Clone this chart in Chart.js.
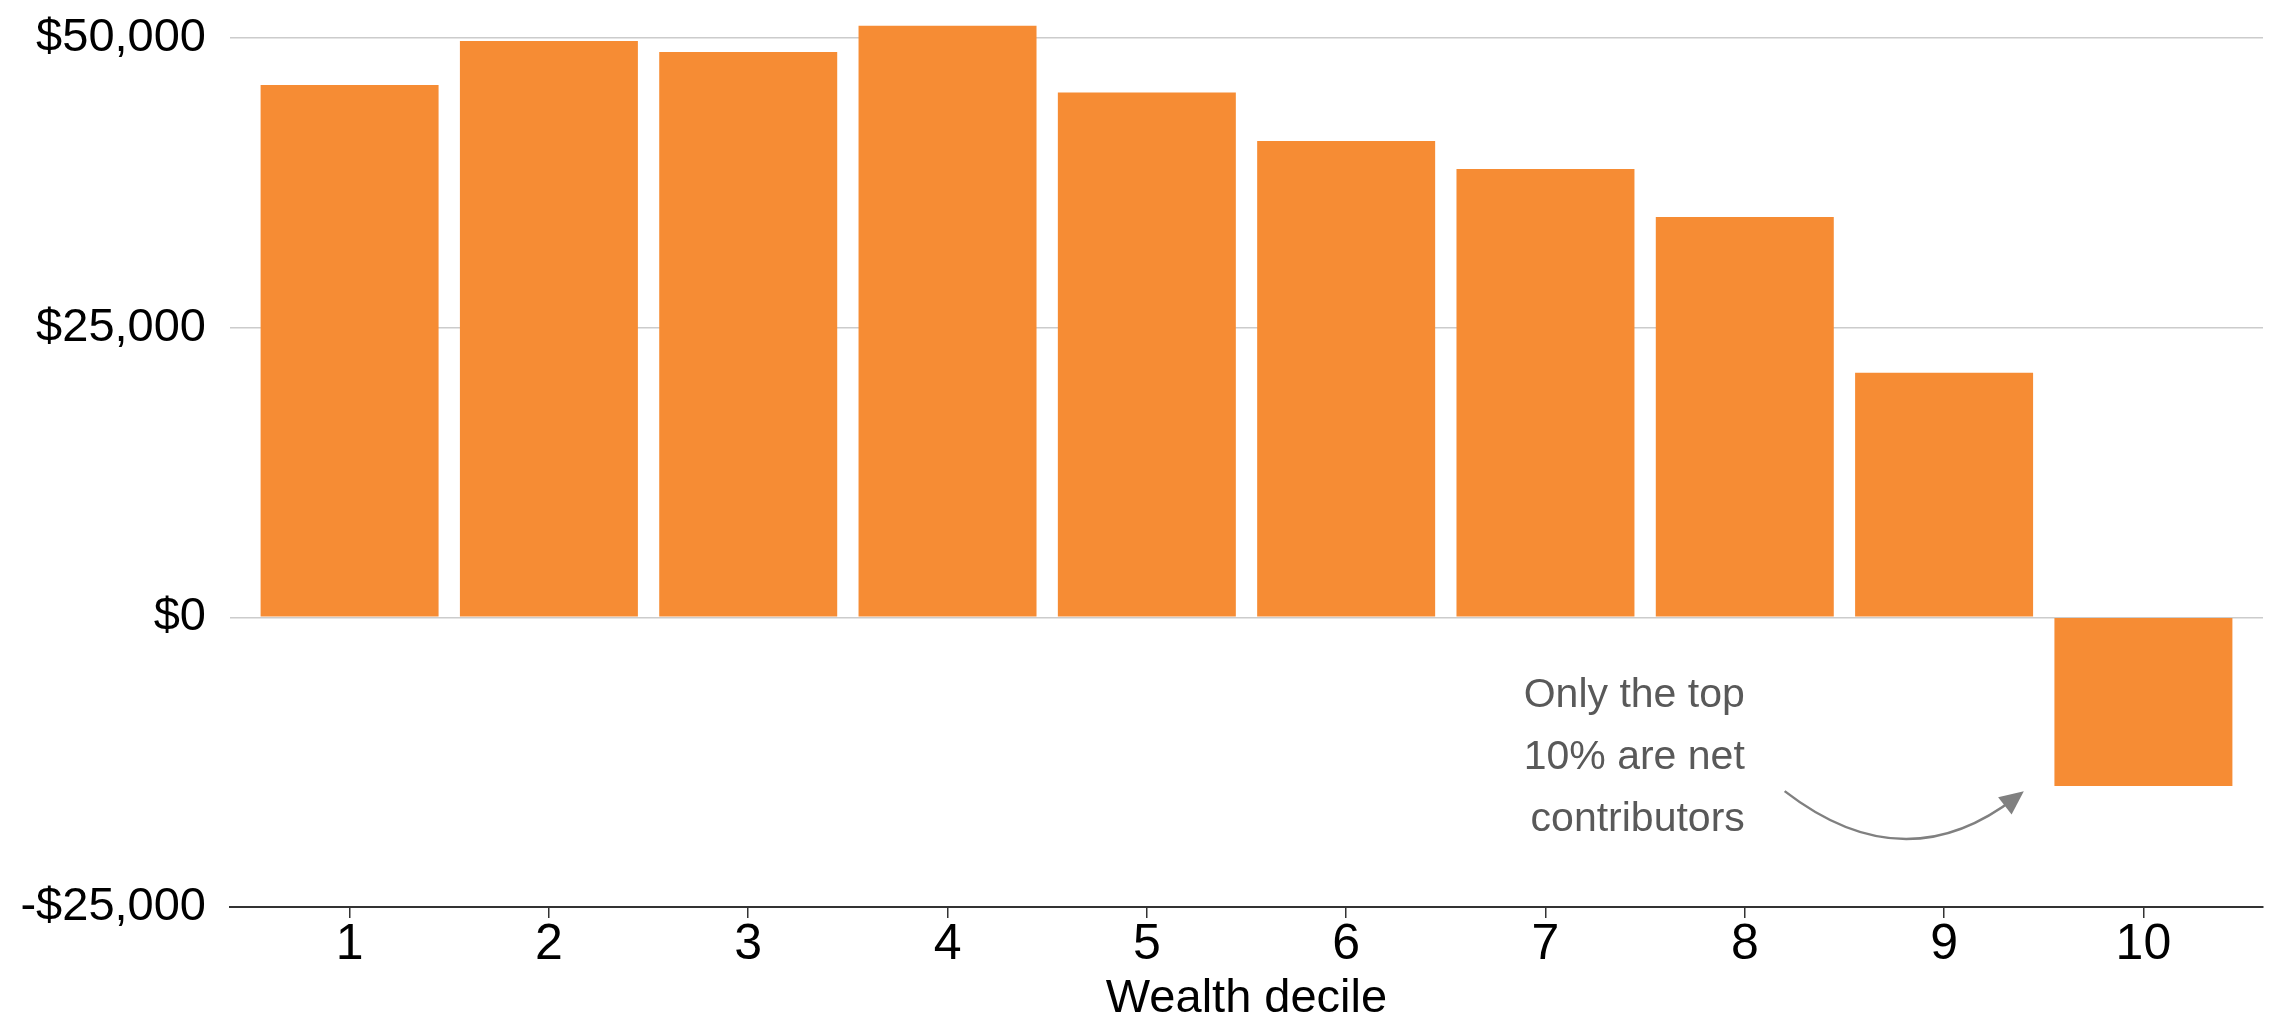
<!DOCTYPE html>
<html>
<head>
<meta charset="utf-8">
<title>Wealth decile</title>
<script src="https://cdn.jsdelivr.net/npm/chart.js@4.4.0/dist/chart.umd.min.js"></script>
<style>
    html, body { margin: 0; padding: 0; background: #fff; }
    #wrap { width: 2272px; height: 1018px; }
</style>
</head>
<body>
<div id="wrap"><canvas id="chart" width="2272" height="1018"></canvas></div>
<script>
// Data
const deciles = [1, 2, 3, 4, 5, 6, 7, 8, 9, 10];
const netValues = [45950, 49750, 48800, 51050, 45300, 41100, 38700, 34550, 21100, -14550];
const yTicks = [-25000, 0, 25000, 50000];
const noteLines = ['Only the top', '10% are net', 'contributors'];

const FONT = '"Liberation Sans", Arial, Helvetica, sans-serif';
const ORANGE = '#F68C34';

function formatMoney(v) {
    const s = '$' + Math.abs(v).toLocaleString('en-US');
    return v < 0 ? '-' + s : s;
}

// Text note with a curved arrow pointing at the top decile
const notePlugin = {
    id: 'notePlugin',
    afterDatasetsDraw(chart) {
        const { ctx } = chart;
        const x = chart.scales.x;
        const y = chart.scales.y;

        ctx.save();
        ctx.font = '41px ' + FONT;
        ctx.fillStyle = '#595959';
        ctx.textAlign = 'right';
        ctx.textBaseline = 'alphabetic';
        const right = x.getPixelForValue(8);
        const base = y.getPixelForValue(-7700);
        noteLines.forEach((line, i) => {
            ctx.fillText(line, right, base + i * 62);
        });

        const x0 = x.getPixelForValue(8.2), y0 = y.getPixelForValue(-15000);
        const x1 = x.getPixelForValue(9.4), y1 = y.getPixelForValue(-15000);
        const cx = x.getPixelForValue(8.8), cy = y.getPixelForValue(-23000);

        // direction at the end of the curve
        const dx = x1 - cx, dy = y1 - cy;
        const len = Math.sqrt(dx * dx + dy * dy);
        const ux = dx / len, uy = dy / len;
        const headLen = 24, headHalf = 11;

        ctx.strokeStyle = '#808080';
        ctx.lineWidth = 2.5;
        ctx.beginPath();
        ctx.moveTo(x0, y0);
        ctx.quadraticCurveTo(cx, cy, x1 - ux * 10, y1 - uy * 10);
        ctx.stroke();

        ctx.fillStyle = '#808080';
        ctx.beginPath();
        ctx.moveTo(x1, y1);
        ctx.lineTo(x1 - ux * headLen - uy * headHalf, y1 - uy * headLen + ux * headHalf);
        ctx.lineTo(x1 - ux * headLen + uy * headHalf, y1 - uy * headLen - ux * headHalf);
        ctx.closePath();
        ctx.fill();
        ctx.restore();
    }
};

const chart = new Chart(document.getElementById('chart'), {
    type: 'bar',
    data: {
        datasets: [{
            data: deciles.map((d, i) => ({ x: d, y: netValues[i] })),
            backgroundColor: ORANGE,
            borderWidth: 0,
            categoryPercentage: 1,
            barPercentage: 0.893,
            clip: false
        }]
    },
    options: {
        responsive: false,
        animation: false,
        devicePixelRatio: 1,
        layout: { padding: { top: 38, right: 9, bottom: 0, left: 0 } },
        plugins: {
            legend: { display: false },
            tooltip: { enabled: false }
        },
        scales: {
            x: {
                type: 'linear',
                min: 0.4,
                max: 10.6,
                offset: false,
                grid: {
                    offset: false,
                    drawOnChartArea: false,
                    drawTicks: true,
                    tickLength: 11,
                    color: '#333333',
                    lineWidth: 1.5
                },
                border: { color: '#333333', width: 2 },
                ticks: {
                    stepSize: 1,
                    includeBounds: false,
                    color: '#000',
                    padding: 2,
                    font: { family: FONT, size: 50, lineHeight: 1 }
                },
                title: {
                    display: true,
                    text: 'Wealth decile',
                    color: '#000',
                    padding: { top: 0, bottom: 0 },
                    font: { family: FONT, size: 47, lineHeight: 0.8 }
                },
                afterFit(scale) {
                    scale.height = 111;
                    scale.paddingLeft = 0;
                    scale.paddingRight = 0;
                }
            },
            y: {
                min: -25000,
                max: 50000,
                afterBuildTicks(scale) {
                    scale.ticks = yTicks.map(v => ({ value: v }));
                },
                grid: {
                    drawTicks: false,
                    lineWidth: 1.5,
                    color: c => (c.tick && c.tick.value === -25000) ? 'rgba(0,0,0,0)' : '#cccccc'
                },
                border: { display: false },
                ticks: {
                    color: '#000',
                    padding: 24,
                    font: { family: FONT, size: 47 },
                    callback: v => formatMoney(v)
                },
                afterFit(scale) {
                    scale.width = 230;
                    scale.paddingTop = 0;
                    scale.paddingBottom = 0;
                }
            }
        }
    },
    plugins: [notePlugin]
});
</script>
</body>
</html>
